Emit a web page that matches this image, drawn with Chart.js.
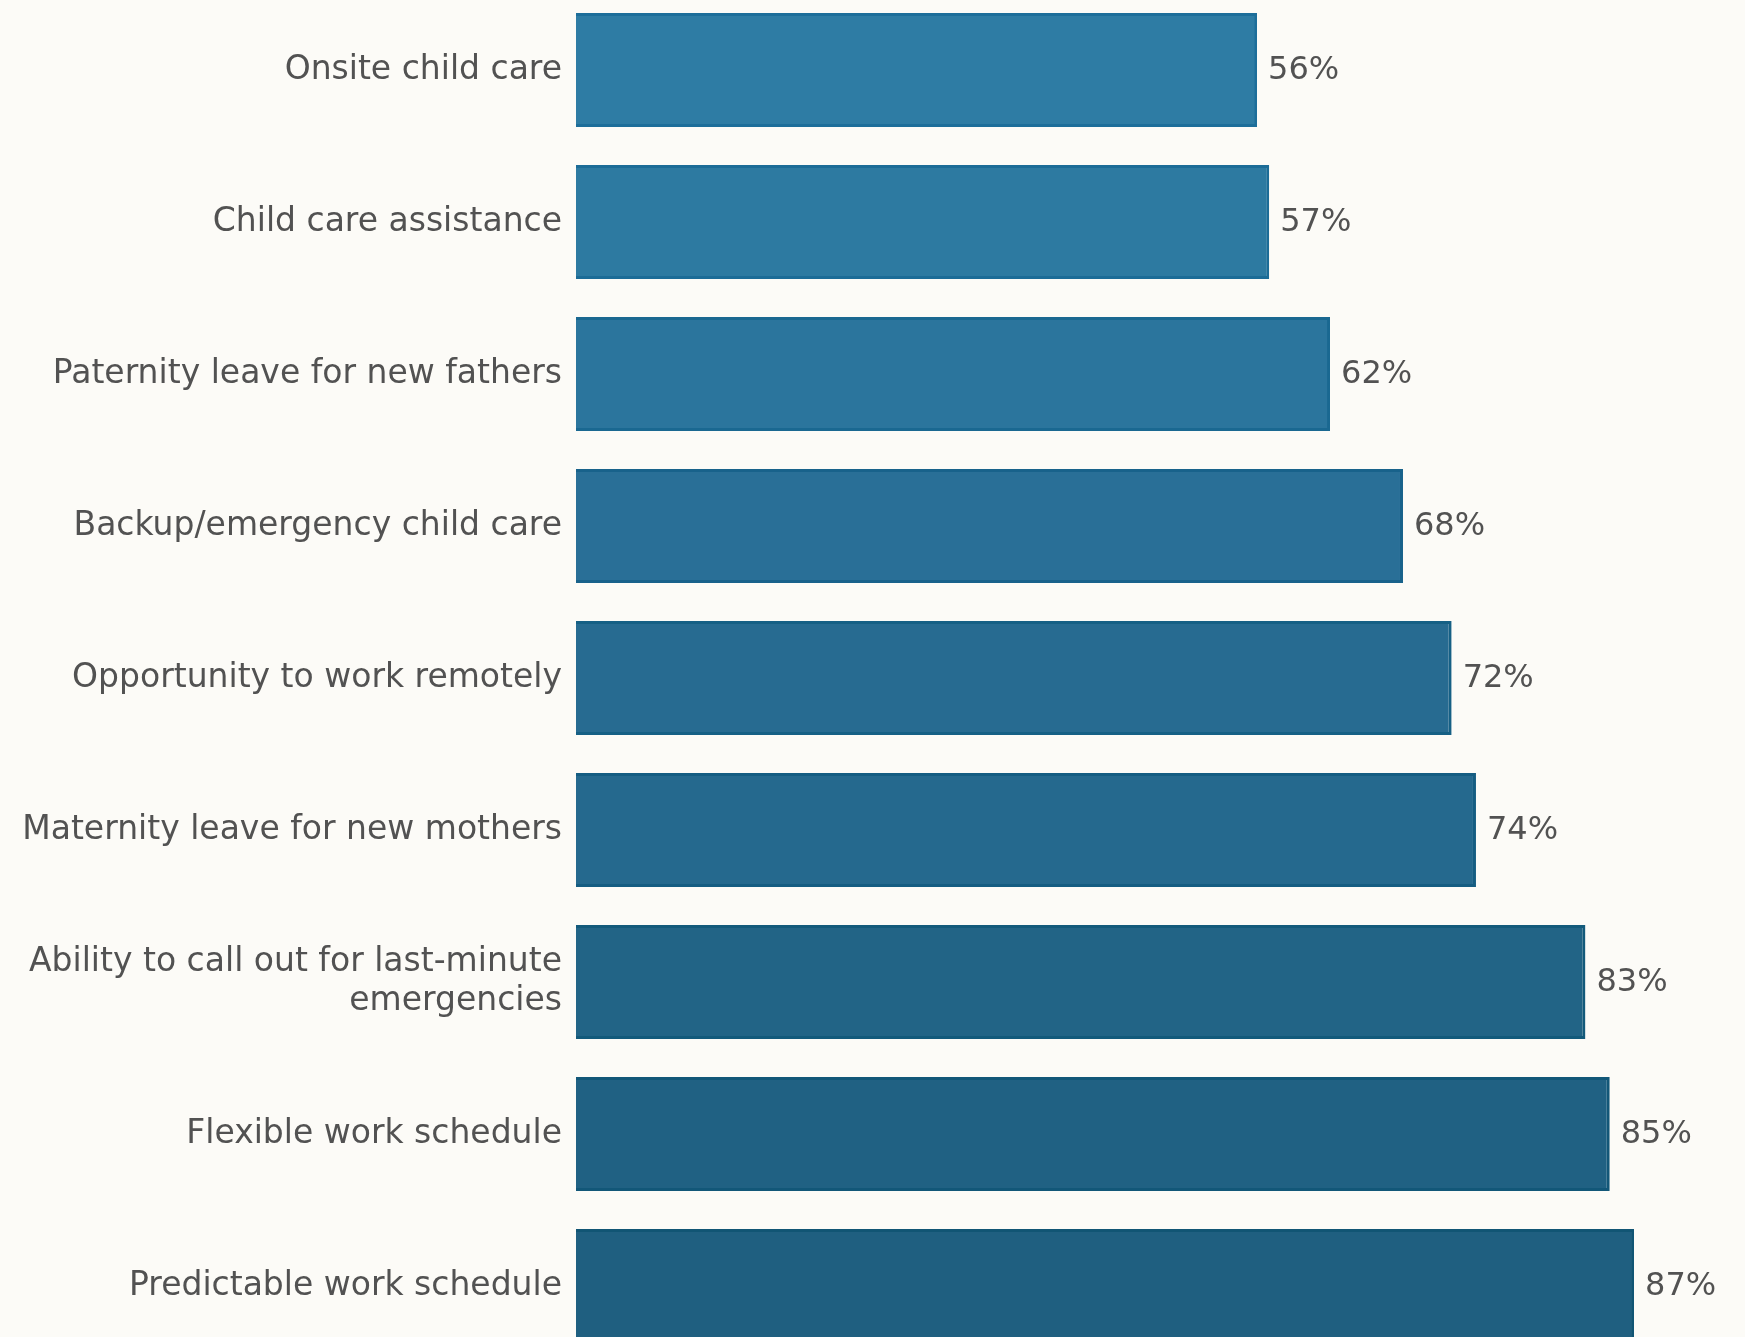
<!DOCTYPE html>
<html>
<head>
<meta charset="utf-8">
<script src="https://cdn.jsdelivr.net/npm/chart.js@4.4.0/dist/chart.umd.min.js"></script>
<style>
  html, body { margin: 0; padding: 0; background: #fcfbf7; overflow: hidden; width: 1745px; height: 1337px; }
  #wrap { position: absolute; left: 0; top: -6px; width: 1745px; height: 1368px; }
</style>
</head>
<body>
<div id="wrap"><canvas id="c" width="1745" height="1368"></canvas></div>
<script>
const categories = [
  "Onsite child care",
  "Child care assistance",
  "Paternity leave for new fathers",
  "Backup/emergency child care",
  "Opportunity to work remotely",
  "Maternity leave for new mothers",
  ["Ability to call out for last-minute", "emergencies"],
  "Flexible work schedule",
  "Predictable work schedule"
];
const values = [56, 57, 62, 68, 72, 74, 83, 85, 87];
const barColors = ["#2e7ca4", "#2d7aa1", "#2b759d", "#296f97", "#276b91", "#25698e", "#226486", "#206183", "#1f5f80"];
const borderColors = ["#1d6e9a", "#1c6c97", "#1a6891", "#18628b", "#166085", "#155d82", "#135a7b", "#125778", "#115574"];

const valueLabels = {
  id: 'valueLabels',
  afterDatasetsDraw(chart) {
    const ctx = chart.ctx;
    const meta = chart.getDatasetMeta(0);
    ctx.save();
    ctx.font = '32px "DejaVu Sans"';
    ctx.fillStyle = '#525252';
    ctx.textAlign = 'left';
    ctx.textBaseline = 'middle';
    meta.data.forEach((bar, i) => {
      ctx.fillText(values[i] + '%', bar.x + 11, bar.y + 1);
    });
    ctx.restore();
  }
};

new Chart(document.getElementById('c'), {
  type: 'bar',
  data: {
    labels: categories,
    datasets: [{
      data: values,
      backgroundColor: barColors,
      borderColor: borderColors,
      borderWidth: 3,
      barPercentage: 0.75,
      categoryPercentage: 1.0
    }]
  },
  options: {
    indexAxis: 'y',
    responsive: false,
    animation: false,
    layout: { padding: { left: 0, right: 10, top: 0, bottom: 0 } },
    plugins: { legend: { display: false }, tooltip: { enabled: false } },
    scales: {
      x: { display: false, min: 0, max: 95.3 },
      y: {
        grid: { display: false, drawTicks: false },
        border: { display: false },
        ticks: {
          padding: 14,
          color: '#525252',
          font: { family: '"DejaVu Sans"', size: 33, lineHeight: 1.18 }
        },
        afterFit(axis) {
          axis.width = 576;
          axis.paddingTop = 0;
          axis.paddingBottom = 0;
        }
      }
    }
  },
  plugins: [valueLabels]
});
</script>
</body>
</html>
